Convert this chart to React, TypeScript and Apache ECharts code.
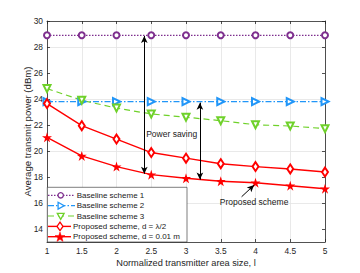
import React, { useEffect, useRef } from "react";
import * as echarts from "echarts";

const xValues = [1, 1.5, 2, 2.5, 3, 3.5, 4, 4.5, 5];
const baseline1 = [28.9, 28.9, 28.9, 28.9, 28.9, 28.9, 28.9, 28.9, 28.9];
const baseline2 = [23.8, 23.8, 23.8, 23.8, 23.8, 23.8, 23.8, 23.8, 23.8];
const baseline3 = [24.8, 23.9, 23.3, 22.85, 22.6, 22.33, 22.02, 21.92, 21.72];
const proposedHalf = [23.65, 21.95, 20.92, 19.88, 19.45, 19.02, 18.8, 18.62, 18.38];
const proposedSmall = [21.05, 19.62, 18.8, 18.18, 17.9, 17.67, 17.56, 17.33, 17.1];
const yTicks = [14, 16, 18, 20, 22, 24, 26, 28, 30];
const seriesNames = [
  "Baseline scheme 1",
  "Baseline scheme 2",
  "Baseline scheme 3",
  "Proposed scheme, d = λ/2",
  "Proposed scheme, d = 0.01 m",
];

const PURPLE = "#7E2F8E";
const BLUE = "#2196F8";
const GREEN = "#6FD12A";
const RED = "#FF0000";

const STAR =
  "path://M50,0 L61.2,34.5 L97.6,34.5 L68.2,55.9 L79.4,90.5 L50,69.1 L20.6,90.5 L31.8,55.9 L2.4,34.5 L38.8,34.5 Z";

const pairs = (ys: number[]) => xValues.map((x, i) => [x, ys[i]]);

function starPoints(cx: number, cy: number, ro: number, ri: number) {
  const pts: number[][] = [];
  for (let k = 0; k < 10; k++) {
    const r = k % 2 === 0 ? ro : ri;
    const a = -Math.PI / 2 + (k * Math.PI) / 5;
    pts.push([cx + r * Math.cos(a), cy + r * Math.sin(a)]);
  }
  return pts;
}

function buildLegend(font: string) {
  const rows = [195.3, 205.7, 216, 226.4, 236.7];
  const els: any[] = [
    {
      type: "rect",
      shape: { x: 47.3, y: 187.3, width: 139.7, height: 54.7 },
      style: { fill: "#fff", stroke: "#262626", lineWidth: 0.6 },
      z: 100,
    },
  ];
  const lineDefs = [
    { color: PURPLE, dash: [1.5, 1.5], x2: 75, mx: 60.7 },
    { color: BLUE, dash: [6, 2, 1.5, 2], x2: 75, mx: 60.7 },
    { color: GREEN, dash: [6, 4], x2: 75, mx: 60.7 },
    { color: RED, dash: null, x2: 71, mx: 60 },
    { color: RED, dash: null, x2: 71, mx: 60 },
  ];
  lineDefs.forEach((d, i) => {
    const y = rows[i];
    els.push({
      type: "line",
      shape: { x1: 48, y1: y, x2: d.x2, y2: y },
      style: { stroke: d.color, lineWidth: i >= 3 ? 1.4 : 1.2, lineDash: d.dash || undefined },
      z: 101,
    });
    const mx = d.mx;
    let marker: any;
    if (i === 0) {
      marker = { type: "circle", shape: { cx: mx, cy: y, r: 2.7 }, style: { fill: "#fff", stroke: d.color, lineWidth: 1.3 } };
    } else if (i === 1) {
      marker = {
        type: "polygon",
        shape: { points: [[mx - 2.6, y - 3.4], [mx + 3.4, y], [mx - 2.6, y + 3.4]] },
        style: { fill: "#fff", stroke: d.color, lineWidth: 1.3 },
      };
    } else if (i === 2) {
      marker = {
        type: "polygon",
        shape: { points: [[mx - 3.4, y - 2.6], [mx + 3.4, y - 2.6], [mx, y + 3.4]] },
        style: { fill: "#fff", stroke: d.color, lineWidth: 1.3 },
      };
    } else if (i === 3) {
      marker = {
        type: "polygon",
        shape: { points: [[mx, y - 4.3], [mx + 3, y], [mx, y + 4.3], [mx - 3, y]] },
        style: { fill: "#fff", stroke: d.color, lineWidth: 1.3 },
      };
    } else {
      marker = {
        type: "polygon",
        shape: { points: starPoints(mx, y + 0.5, 5.2, 2.1) },
        style: { fill: d.color, stroke: d.color, lineWidth: 0.5 },
      };
    }
    marker.z = 102;
    els.push(marker);
    els.push({
      type: "text",
      x: i >= 3 ? 73 : 76.7,
      y: y,
      style: {
        text: seriesNames[i],
        font: `8px ${font}`,
        fill: "#1a1a1a",
        textVerticalAlign: "middle",
        verticalAlign: "middle",
        align: "left",
      },
      z: 102,
    });
  });
  return els;
}

export default function App() {
  const ref = useRef<HTMLDivElement>(null);
  useEffect(() => {
    if (!ref.current) return;
    const chart = echarts.init(ref.current, undefined, { renderer: "svg" });
    const font = "Liberation Sans";
    const axisColor = "#262626";
    const gridColor = "#e3e3e3";
    chart.setOption({
      animation: false,
      backgroundColor: "#fff",
      textStyle: { fontFamily: font },
      grid: { left: 47, right: 35, top: 21, bottom: 31 },
      graphic: buildLegend(font),
      xAxis: [
        {
          type: "value",
          min: 1,
          max: 5,
          interval: 0.5,
          name: "Normalized transmitter area size, l",
          nameLocation: "middle",
          nameGap: 16,
          nameMoveOverlap: false,
          nameTextStyle: { fontSize: 9.2, color: axisColor, fontFamily: font },
          axisLine: { lineStyle: { color: axisColor, width: 0.8 } },
          axisTick: { inside: true, length: 3, lineStyle: { color: axisColor, width: 0.8 } },
          axisLabel: { fontSize: 8.4, color: axisColor, margin: 5, fontFamily: font },
          splitLine: { show: true, lineStyle: { color: gridColor, width: 0.8 } },
        },
        {
          type: "value",
          min: 1,
          max: 5,
          interval: 0.5,
          position: "top",
          axisLine: { show: true, lineStyle: { color: axisColor, width: 0.8 } },
          axisTick: { inside: true, length: 3, lineStyle: { color: axisColor, width: 0.8 } },
          axisLabel: { show: false },
          splitLine: { show: false },
        },
      ],
      yAxis: [
        {
          type: "value",
          min: 13,
          max: 30,
          interval: 1,
          name: "Average transmit power (dBm)",
          nameLocation: "middle",
          nameGap: 15,
          nameMoveOverlap: false,
          nameTextStyle: { fontSize: 9.6, color: axisColor, fontFamily: font },
          axisLine: { show: true, lineStyle: { color: axisColor, width: 0.8 } },
          axisTick: {
            show: true,
            inside: true,
            length: 3,
            customValues: yTicks,
            lineStyle: { color: axisColor, width: 0.8 },
          },
          axisLabel: {
            fontSize: 8.4,
            color: axisColor,
            margin: 4,
            fontFamily: font,
            customValues: yTicks,
            formatter: (v: number) => (v % 2 === 0 ? String(v) : ""),
          },
          splitLine: {
            show: true,
            lineStyle: { color: ["transparent", gridColor], width: 0.8 },
          },
        },
        {
          type: "value",
          min: 13,
          max: 30,
          interval: 1,
          position: "right",
          axisLine: { show: true, lineStyle: { color: axisColor, width: 0.8 } },
          axisTick: {
            show: true,
            inside: true,
            length: 3,
            customValues: yTicks,
            lineStyle: { color: axisColor, width: 0.8 },
          },
          axisLabel: { show: false },
          splitLine: { show: false },
        },
      ],
      series: [
        {
          name: seriesNames[0],
          type: "line",
          data: pairs(baseline1),
          symbol: "emptyCircle",
          symbolSize: 6,
          color: PURPLE,
          itemStyle: { borderWidth: 1.3 },
          lineStyle: { type: [1.5, 1.5], width: 1.2 },
          z: 3,
        },
        {
          name: seriesNames[1],
          type: "line",
          data: pairs(baseline2),
          symbol: "emptyTriangle",
          symbolRotate: -90,
          symbolSize: 7,
          color: BLUE,
          itemStyle: { borderWidth: 1.3 },
          lineStyle: { type: [6, 2, 1.5, 2], width: 1.2 },
          z: 3,
        },
        {
          name: seriesNames[2],
          type: "line",
          data: pairs(baseline3),
          symbol: "emptyTriangle",
          symbolRotate: 180,
          symbolSize: 7,
          color: GREEN,
          itemStyle: { borderWidth: 1.3 },
          lineStyle: { type: [6, 4], width: 1.2 },
          z: 3,
        },
        {
          name: seriesNames[3],
          type: "line",
          data: pairs(proposedHalf),
          symbol: "emptyDiamond",
          symbolSize: [6, 9],
          color: RED,
          itemStyle: { borderWidth: 1.3 },
          lineStyle: { width: 1.4 },
          z: 3,
          markLine: {
            silent: true,
            symbol: ["arrow", "arrow"],
            symbolSize: [5, 7],
            label: { show: false },
            lineStyle: { color: "#000", width: 1, type: "solid" },
            data: [
              [{ coord: [2.4, 28.85] }, { coord: [2.4, 18.25] }],
              [{ coord: [3.2, 23.72] }, { coord: [3.2, 17.8] }],
              [
                { coord: [3.8, 16.48], symbol: "none" },
                { coord: [3.98, 17.38], symbol: "arrow" },
              ],
            ],
          },
          markPoint: {
            silent: true,
            symbol: "rect",
            symbolSize: 1,
            itemStyle: { color: "transparent" },
            data: [
              {
                coord: [2.42, 21.3],
                label: {
                  show: true,
                  position: "right",
                  distance: 0,
                  formatter: "Power saving",
                  fontSize: 8.5,
                  color: "#1a1a1a",
                  fontFamily: font,
                },
              },
              {
                coord: [3.98, 16.1],
                label: {
                  show: true,
                  position: "inside",
                  formatter: "Proposed scheme",
                  fontSize: 8.5,
                  color: "#1a1a1a",
                  fontFamily: font,
                },
              },
            ],
          },
        },
        {
          name: seriesNames[4],
          type: "line",
          data: pairs(proposedSmall),
          symbol: STAR,
          symbolSize: 10,
          color: RED,
          lineStyle: { width: 1.4 },
          z: 3,
        },
      ],
    });
    return () => chart.dispose();
  }, []);
  return (
    <div
      ref={ref}
      style={{ position: "absolute", left: 0, top: 0, width: 360, height: 273 }}
    />
  );
}
